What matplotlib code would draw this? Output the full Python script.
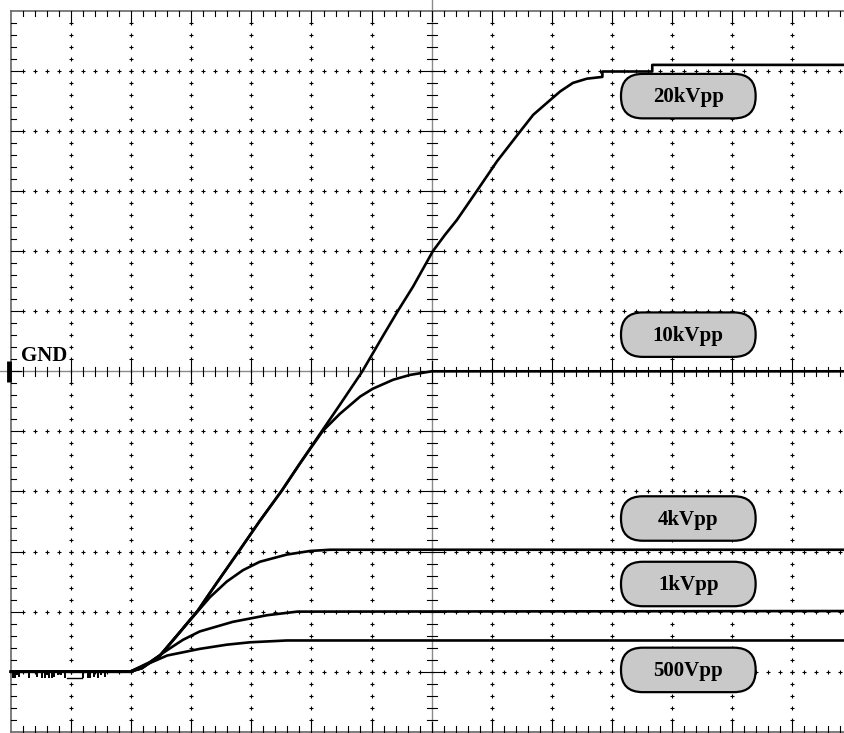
import matplotlib
matplotlib.use("Agg")
import matplotlib.pyplot as plt
from matplotlib.patches import FancyBboxPatch
import numpy as np

# scope screen, all values in divisions; GND (centre line) is y = 0
x_divs = 14
y_half = 6

# 20 kVpp step response
t20 = [0, 1.98, 2.18, 2.48, 2.76, 3.11, 3.39, 3.76, 4.14, 4.51, 4.81, 5.19, 5.47, 5.84, 6.19, 6.44,
       6.69, 7.02, 7.22, 7.42, 7.75, 8.09, 8.47, 8.69, 8.92, 9.14, 9.35, 9.58, 9.84, 9.84, 10.67, 10.67, 14.0]
v20 = [-5.0, -5.0, -4.94, -4.73, -4.40, -3.98, -3.57, -3.04, -2.49, -1.98, -1.53, -0.97, -0.56, -0.01, 0.59, 1.01,
       1.41, 2.00, 2.27, 2.52, 3.00, 3.50, 3.99, 4.27, 4.47, 4.66, 4.80, 4.87, 4.90, 4.99, 4.99, 5.10, 5.10]

# 10 kVpp
t10 = [0, 1.98, 2.18, 2.48, 2.76, 3.11, 3.39, 3.76, 4.14, 4.51, 4.81, 5.19, 5.47, 5.81, 6.02, 6.36, 6.64, 7.0, 14.0]
v10 = [-5.0, -5.0, -4.94, -4.73, -4.40, -3.98, -3.57, -3.04, -2.49, -1.98, -1.53, -0.99, -0.71, -0.42, -0.29, -0.14,
       -0.06, 0.0, 0.0]

# 4 kVpp
t4 = [0, 1.98, 2.18, 2.48, 2.76, 2.93, 3.31, 3.59, 3.86, 4.14, 4.59, 4.98, 5.31, 14.0]
v4 = [-5.0, -5.0, -4.94, -4.73, -4.40, -4.20, -3.76, -3.50, -3.31, -3.17, -3.05, -2.99, -2.97, -2.97]

# 1 kVpp
t1 = [0, 1.98, 2.31, 2.60, 2.86, 3.14, 3.69, 4.26, 4.76, 14.0]
v1 = [-5.0, -5.0, -4.84, -4.64, -4.47, -4.33, -4.17, -4.06, -4.00, -3.99]

# 500 Vpp
t05 = [0, 1.98, 2.23, 2.60, 3.14, 3.59, 3.98, 4.59, 14.0]
v05 = [-5.0, -5.0, -4.89, -4.73, -4.62, -4.55, -4.51, -4.48, -4.48]

# pre-trigger glitches on the baseline (position, depth)
glitch_t = [0.03, 0.07, 0.10, 0.13, 0.30, 0.44, 0.52, 0.56, 0.60, 0.64, 0.68, 0.72, 0.78,
            0.84, 0.90, 1.20, 1.28, 1.32, 1.38, 1.44, 1.50, 1.56]
glitch_d = [0.10, 0.10, 0.06, 0.08, 0.10, 0.08, 0.10, 0.10, 0.06, 0.10, 0.10, 0.08, 0.06,
            0.06, 0.10, 0.10, 0.10, 0.10, 0.08, 0.10, 0.06, 0.08]

labels = ["20kVpp", "10kVpp", "4kVpp", "1kVpp", "500Vpp"]
label_x = 11.27
label_y = [4.58, 0.61, -2.45, -3.54, -4.97]

fig = plt.figure(figsize=(8.45, 7.33), dpi=100)
ax = fig.add_axes([0, 0, 1, 1])
ax.set_xlim(-0.183, 13.877)
ax.set_ylim(-6.02, 6.18)
ax.axis("off")

serif = ["Liberation Serif", "DejaVu Serif"]
minor = np.arange(0.2, x_divs, 0.2)
minor_y = np.arange(-y_half + 0.2, y_half - 0.1, 0.2)

# dotted graticule
for k in range(-y_half + 1, y_half):
    if k != 0:
        ax.plot(minor, np.full_like(minor, k), ls="none", marker="+", ms=3.2, mew=0.8, color="black")
for k in range(1, x_divs):
    if k != 7:
        ax.plot(np.full_like(minor_y, k), minor_y, ls="none", marker="+", ms=3.2, mew=0.8, color="black")

# centre axes with ticks
ax.axhline(0, color="#8a8a8a", lw=1.0)
ax.axvline(7, color="#8a8a8a", lw=1.0)
for x in minor:
    h = 0.17 if abs(x - round(x)) < 1e-6 else 0.08
    ax.plot([x, x], [-h, h], color="black", lw=0.8)
for y in minor_y:
    h = 0.17 if abs(y - round(y)) < 1e-6 else 0.08
    ax.plot([7 - h, 7 + h], [y, y], color="black", lw=0.8)

# outer frame with inward ticks
ax.plot([0, 0], [-y_half, y_half], color="#666666", lw=1.2)
ax.plot([0, x_divs], [y_half, y_half], color="#666666", lw=1.2)
ax.plot([0, x_divs], [-y_half, -y_half], color="#666666", lw=1.2)
for x in minor:
    h = 0.17 if abs(x - round(x)) < 1e-6 else 0.09
    ax.plot([x, x], [y_half, y_half - h], color="black", lw=0.8)
    ax.plot([x, x], [-y_half, -y_half + h], color="black", lw=0.8)
for y in minor_y:
    h = 0.17 if abs(y - round(y)) < 1e-6 else 0.09
    ax.plot([0, h], [y, y], color="black", lw=0.8)

# GND marker
ax.plot([-0.03, -0.03], [-0.17, 0.17], color="black", lw=3.5, solid_capstyle="butt")
ax.text(0.17, 0.17, "GND", family=serif, fontsize=15, weight="bold", ha="left", va="baseline")

# traces
for t, v in [(t05, v05), (t1, v1), (t4, v4), (t10, v10), (t20, v20)]:
    ax.plot(t, v, color="black", lw=1.9, zorder=5, solid_joinstyle="round")
ax.vlines(glitch_t, [-5.0 - d for d in glitch_d], -5.0, color="black", lw=1.4, zorder=5)
ax.plot([0.93, 1.18], [-5.1, -5.1], color="black", lw=1.0, zorder=5)

# channel labels
for lab, y in zip(labels, label_y):
    box = FancyBboxPatch((label_x - 1.12, y - 0.37), 2.24, 0.74,
                         boxstyle="round,pad=0,rounding_size=0.36",
                         facecolor="#c9c9c9", edgecolor="black", lw=1.6, zorder=6)
    ax.add_patch(box)
    ax.text(label_x, y - 0.02, lab, family=serif, fontsize=15, weight="bold",
            ha="center", va="center", zorder=7)

fig.savefig("out.png", dpi=100)
